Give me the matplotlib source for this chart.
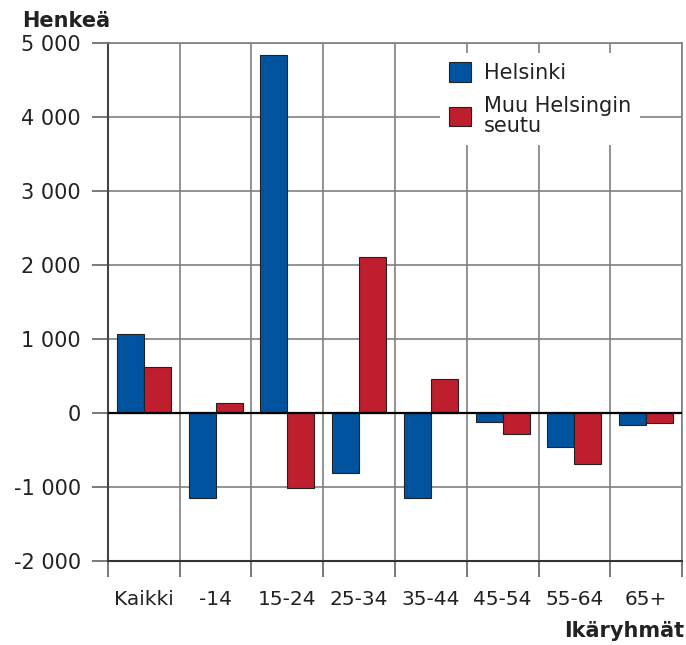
import matplotlib.pyplot as plt
import numpy as np
from matplotlib.ticker import FuncFormatter, FixedLocator

# ikäryhmät ja muuttovoitto (henkeä)
ikaryhmat = ["Kaikki", "-14", "15-24", "25-34", "35-44", "45-54", "55-64", "65+"]
helsinki = [1070, -1155, 4830, -811, -1150, -130, -460, -162]
muu_seutu = [620, 136, -1022, 2104, 451, -292, -697, -140]

sininen = "#00539f"
punainen = "#be1e2d"

fig = plt.figure(figsize=(6.86, 6.45), dpi=100)
ax = fig.add_axes([0.1574, 0.1307, 0.9942 - 0.1574, 0.9338 - 0.1307])

x = np.arange(len(ikaryhmat))
w = 0.375
ax.bar(x - w / 2, helsinki, w, color=sininen, edgecolor="#222222", linewidth=0.8,
       label="Helsinki", zorder=3)
ax.bar(x + w / 2, muu_seutu, w, color=punainen, edgecolor="#222222", linewidth=0.8,
       label="Muu Helsingin\nseutu", zorder=3)

ax.axhline(0, color="black", lw=1.6, zorder=4)

ax.set_xlim(-0.5, len(ikaryhmat) - 0.5)
ax.set_ylim(-2000, 5000)
ax.set_yticks(range(-2000, 5001, 1000))
ax.yaxis.set_major_formatter(FuncFormatter(lambda v, p: f"{int(v):,}".replace(",", " ")))

ax.set_xticks(x)
ax.set_xticklabels(ikaryhmat)
ax.xaxis.set_minor_locator(FixedLocator(np.arange(-0.5, len(ikaryhmat), 1.0)))

ax.tick_params(axis="x", which="major", length=0, pad=21, labelsize=14.5, colors="#222222")
ax.tick_params(axis="x", which="minor", length=11.5, width=1.1, color="#555555")
ax.tick_params(axis="y", length=11.5, width=1.1, color="#555555", pad=8,
               labelsize=15, labelcolor="#222222")

ax.grid(True, which="major", axis="y", color="#808080", lw=1.2, zorder=1)
ax.grid(True, which="minor", axis="x", color="#808080", lw=1.2, zorder=1)

ax.spines["left"].set_color("#444444")
ax.spines["left"].set_linewidth(1.5)
ax.spines["bottom"].set_color("#333333")
ax.spines["bottom"].set_linewidth(1.5)
ax.spines["right"].set_color("#808080")
ax.spines["right"].set_linewidth(1.2)
ax.spines["top"].set_color("#808080")
ax.spines["top"].set_linewidth(1.2)

leg = ax.legend(loc="upper left", bbox_to_anchor=(0.578, 0.98), borderaxespad=0,
                fontsize=15, frameon=True, fancybox=False, facecolor="white",
                edgecolor="none", framealpha=1, handlelength=1.06, handleheight=1.06,
                handletextpad=0.6, borderpad=0.45, labelspacing=0.6)
for t in leg.get_texts():
    t.set_linespacing(1.0)
    t.set_color("#222222")
leg.set_zorder(5)

fig.text(0.032, 1 - 27 / 645, "Henkeä", fontsize=15, fontweight="bold",
         color="#222222", va="baseline", ha="left")
fig.text(0.997, 1 - 637 / 645, "Ikäryhmät", fontsize=15, fontweight="bold",
         color="#222222", va="baseline", ha="right")

fig.savefig("out.png", dpi=100)
